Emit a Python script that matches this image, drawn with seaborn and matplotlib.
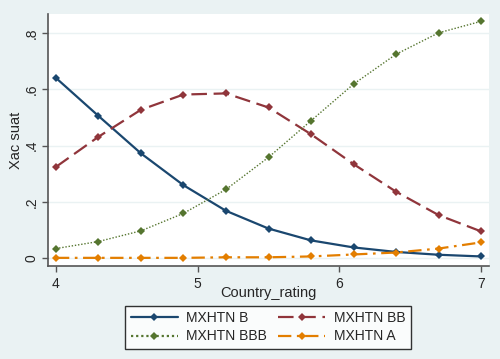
import numpy as np
import pandas as pd
import matplotlib
matplotlib.use("Agg")
import matplotlib.pyplot as plt
import seaborn as sns

# values
country_rating = [4.0, 4.3, 4.6, 4.9, 5.2, 5.5, 5.8, 6.1, 6.4, 6.7, 7.0]
p_b = [0.640, 0.505, 0.372, 0.259, 0.168, 0.105, 0.063, 0.038, 0.022, 0.012, 0.006]
p_bb = [0.324, 0.431, 0.527, 0.581, 0.585, 0.535, 0.440, 0.334, 0.236, 0.153, 0.095]
p_bbb = [0.034, 0.059, 0.097, 0.159, 0.244, 0.358, 0.488, 0.618, 0.724, 0.800, 0.841]
p_a = [0.001, 0.001, 0.001, 0.001, 0.003, 0.003, 0.006, 0.013, 0.020, 0.034, 0.056]
series_names = ["MXHTN B", "MXHTN BB", "MXHTN BBB", "MXHTN A"]

df = pd.concat([
    pd.DataFrame({"Country_rating": country_rating, "p": vals, "series": name})
    for name, vals in zip(series_names, [p_b, p_bb, p_bbb, p_a])
])

sns.set_style("white")
plt.rcParams["font.family"] = ["Liberation Sans", "DejaVu Sans"]

palette = {"MXHTN B": "#1a476f", "MXHTN BB": "#90353b",
           "MXHTN BBB": "#55752f", "MXHTN A": "#e37e00"}
dashes = {"MXHTN B": "", "MXHTN BB": (7, 3),
          "MXHTN BBB": (1, 1.3), "MXHTN A": (6, 2.5, 1.2, 2.5)}
markers = {k: "D" for k in series_names}

fig = plt.figure(figsize=(5, 3.59), dpi=100)
fig.patch.set_facecolor("#eaf2f3")
ax = fig.add_axes([0.096, 0.259, 0.882, 0.702])

sns.lineplot(data=df, x="Country_rating", y="p", hue="series", style="series",
             palette=palette, dashes=dashes, markers=markers, ax=ax,
             linewidth=1.6, markersize=4.5, markeredgewidth=0)
for line, name in zip(ax.lines, series_names):
    if name == "MXHTN BBB":
        line.set_linewidth(1.0)

ax.set_xlim(3.944, 7.056)
ax.set_ylim(-0.028, 0.867)
ax.set_xticks([4, 5, 6, 7])
ax.set_yticks([0, 0.2, 0.4, 0.6, 0.8])
ax.set_yticklabels(["0", ".2", ".4", ".6", ".8"], rotation=90, va="center")
ax.tick_params(axis="both", direction="out", length=4, width=1, color="#555555",
               labelsize=10, left=True, bottom=True)
ax.tick_params(axis="x", pad=4)
ax.tick_params(axis="y", pad=3)
ax.grid(axis="y", color="#eaf2f3", linewidth=1)
for side in ["top", "right"]:
    ax.spines[side].set_visible(False)
for side in ["left", "bottom"]:
    ax.spines[side].set_color("#555555")
    ax.spines[side].set_linewidth(1.2)
ax.set_xlabel("Country_rating", fontsize=10.5)
ax.set_ylabel("Xac suat", fontsize=10.5)
ax.xaxis.set_label_coords(0.5, -0.107)
ax.yaxis.set_label_coords(-0.073, 0.5)
ax.xaxis.label.set_va("center")
ax.yaxis.label.set_va("center")

handles, labels = ax.get_legend_handles_labels()
ax.get_legend().remove()
order = [0, 2, 1, 3]
leg = fig.legend([handles[i] for i in order], [labels[i] for i in order],
                 loc="center", bbox_to_anchor=(0.536, 0.088), ncol=2,
                 fontsize=10, frameon=True, fancybox=False, edgecolor="black",
                 handlelength=3.4, handletextpad=0.6, columnspacing=0.8,
                 labelspacing=0.3, borderpad=0.4, borderaxespad=0)
leg.get_frame().set_linewidth(1.0)

fig.savefig("out.png", dpi=100, facecolor=fig.get_facecolor())
